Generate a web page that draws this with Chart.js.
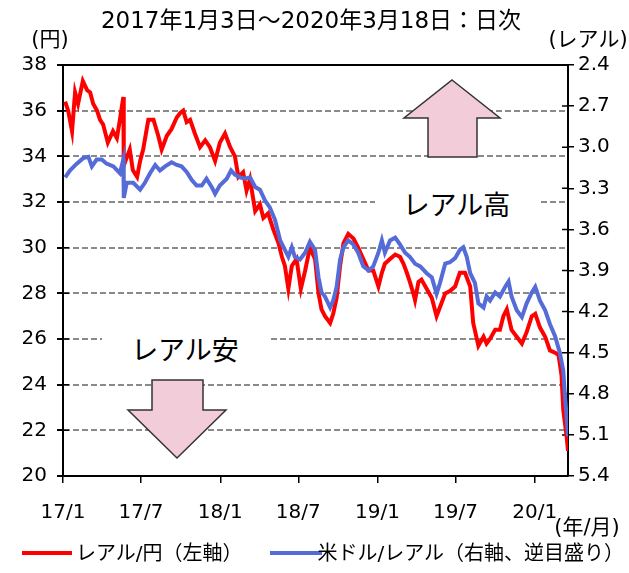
<!DOCTYPE html>
<html><head>
<meta charset="utf-8">
<script src="https://cdn.jsdelivr.net/npm/chart.js@4"></script>
<style>
  body { margin:0; background:#fff }
  #wrap { position:relative; width:629px; height:573px; font-family:"DejaVu Sans","Noto Sans CJK JP",sans-serif; color:#000 }
  canvas { position:absolute; left:0; top:0 }
  .t { position:absolute; white-space:nowrap; line-height:1; transform:translate(-50%,-50%) }
  .l { position:absolute; white-space:nowrap; line-height:1; transform:translateY(-50%) }
  .r { position:absolute; white-space:nowrap; line-height:1; transform:translate(-100%,-50%) }
  .box { position:absolute; background:#fff; display:flex; align-items:center; justify-content:center; font-size:27px }
  .sw { position:absolute; height:4px }
</style>
</head><body>
<div id="wrap">
  <canvas id="c" width="629" height="573"></canvas>
  <div class="t" style="left:311px;top:20px;font-size:23px">2017年1月3日～2020年3月18日：日次</div>
  <div class="t" style="left:50px;top:39px;font-size:21px">(円)</div>
  <div class="t" style="left:588px;top:39px;font-size:21px">(レアル)</div>
  <div class="t" style="left:587px;top:527px;font-size:21px">(年/月)</div>
  <div class="box" style="left:375px;top:184px;width:163px;height:38px">レアル高</div>
  <div class="box" style="left:102px;top:329px;width:166px;height:38px">レアル安</div>
  <div class="sw" style="left:22px;top:551px;width:50px;background:#ff0000"></div>
  <div class="l" style="left:76px;top:553px;font-size:20px">レアル/円（左軸）</div>
  <div class="sw" style="left:270px;top:551px;width:52px;background:#556bd8"></div>
  <div class="r" style="left:624px;top:553px;font-size:20px">米ドル/レアル（右軸、逆目盛り）</div>
</div>
<script>
// days counted from 2017-01-01
const xTickDays = [0, 181, 365, 546, 730, 911, 1095];
const xTickLabels = ["17/1", "17/7", "18/1", "18/7", "19/1", "19/7", "20/1"];
const yTicks = [20, 22, 24, 26, 28, 30, 32, 34, 36, 38];
const y1Ticks = [2.4, 2.7, 3.0, 3.3, 3.6, 3.9, 4.2, 4.5, 4.8, 5.1, 5.4];

// レアル/円 (left axis)
const redDays = [
  5, 12, 21, 28, 35, 46, 56, 63, 70, 79,
  86, 93, 104, 116, 125, 132, 140, 141, 155, 162,
  172, 179, 186, 198, 210, 221, 229, 241, 252, 264,
  272, 279, 287, 295, 306, 318, 330, 341, 353, 364,
  376, 388, 399, 407, 418, 426, 434, 446, 457, 465,
  476, 488, 500, 508, 515, 523, 531, 542, 552, 562,
  573, 585, 593, 600, 608, 620, 627, 635, 643, 651,
  662, 674, 685, 697, 709, 720, 732, 740, 747, 759,
  771, 782, 790, 798, 805, 813, 817, 825, 832, 844,
  856, 867, 875, 887, 898, 910, 921, 933, 945, 952,
  964, 976, 983, 991, 1003, 1014, 1022, 1030, 1041, 1053,
  1065, 1076, 1088, 1096, 1107, 1119, 1130, 1142, 1150, 1157,
  1161, 1165, 1169, 1172
];
const redValues = [
  36.4, 36.0, 35.1, 36.8, 36.3, 37.3, 36.9, 36.8, 36.3, 36.0,
  35.6, 35.4, 34.6, 35.1, 34.8, 35.6, 36.6, 33.6, 34.3, 33.4,
  33.1, 33.8, 34.3, 35.6, 35.6, 34.9, 34.3, 34.9, 35.2, 35.7,
  35.9, 36.0, 35.5, 35.6, 35.0, 34.4, 34.7, 34.4, 33.8, 34.6,
  35.0, 34.4, 34.0, 33.1, 33.3, 32.5, 33.0, 31.6, 31.9, 31.3,
  31.5, 30.8, 30.2, 29.6, 29.2, 28.2, 29.2, 29.5, 28.2, 29.0,
  30.0, 29.5, 28.0, 27.3, 27.0, 26.7, 27.1, 27.8, 29.2, 30.2,
  30.6, 30.4, 30.0, 29.5, 29.0, 29.0, 28.3, 28.9, 29.3, 29.5,
  29.7, 29.6, 29.3, 28.9, 28.5, 28.0, 27.7, 28.5, 28.6, 28.2,
  27.8, 27.0, 27.4, 28.0, 28.1, 28.3, 28.9, 28.9, 28.3, 26.7,
  25.7, 26.1, 25.8, 26.0, 26.4, 26.4, 27.0, 27.3, 26.4, 26.1,
  25.8, 26.3, 27.0, 27.1, 26.5, 26.1, 25.5, 25.4, 25.3, 24.4,
  22.9, 22.3, 21.7, 21.1
];

// 米ドル/レアル (right axis, reversed)
const blueDays = [
  5, 16, 32, 47, 59, 67, 78, 90, 101, 117,
  132, 140, 141, 148, 163, 179, 190, 202, 214, 225,
  237, 252, 264, 275, 287, 299, 310, 322, 333, 345,
  353, 364, 380, 390, 399, 411, 422, 434, 446, 457,
  469, 480, 492, 504, 515, 523, 531, 538, 550, 562,
  573, 585, 593, 600, 608, 620, 627, 635, 643, 651,
  662, 674, 685, 697, 709, 720, 732, 740, 747, 759,
  771, 782, 794, 805, 817, 829, 844, 856, 867, 875,
  887, 898, 910, 921, 929, 937, 945, 956, 964, 976,
  983, 991, 1003, 1014, 1026, 1034, 1041, 1053, 1065, 1076,
  1088, 1096, 1107, 1119, 1130, 1142, 1153, 1161, 1165, 1169,
  1172
];
const blueValues = [
  3.22, 3.17, 3.12, 3.08, 3.07, 3.14, 3.09, 3.09, 3.12, 3.14,
  3.19, 3.09, 3.37, 3.26, 3.26, 3.31, 3.26, 3.19, 3.13, 3.17,
  3.14, 3.11, 3.13, 3.14, 3.18, 3.24, 3.28, 3.28, 3.23, 3.29,
  3.34, 3.28, 3.23, 3.17, 3.20, 3.22, 3.23, 3.22, 3.29, 3.31,
  3.39, 3.44, 3.53, 3.68, 3.75, 3.80, 3.73, 3.80, 3.82, 3.77,
  3.69, 3.75, 3.95, 4.06, 4.09, 4.17, 4.12, 4.02, 3.82, 3.73,
  3.68, 3.71, 3.77, 3.87, 3.90, 3.87, 3.77, 3.68, 3.77, 3.68,
  3.66, 3.71, 3.77, 3.80, 3.85, 3.87, 3.92, 3.95, 4.07, 3.99,
  3.85, 3.84, 3.81, 3.75, 3.73, 3.80, 3.92, 3.99, 4.14, 4.17,
  4.09, 4.12, 4.06, 4.09, 4.02, 3.98, 4.09, 4.19, 4.24, 4.14,
  4.06, 4.02, 4.12, 4.19, 4.29, 4.38, 4.50, 4.63, 4.82, 4.97,
  5.11
];

const tickFont = { family: "DejaVu Sans", size: 20 };

// arrows, top frame line and the inner half of the axis ticks
const decor = {
  id: "decor",
  beforeDatasetsDraw(chart) {
    const { ctx, chartArea: a, scales } = chart;
    ctx.save();
    ctx.strokeStyle = "#000";
    ctx.lineWidth = 2;
    ctx.beginPath();
    ctx.moveTo(a.left, a.top);
    ctx.lineTo(a.right, a.top);
    ctx.stroke();

    ctx.lineWidth = 1.5;
    ctx.beginPath();
    yTicks.forEach(v => {
      const y = scales.y.getPixelForValue(v);
      ctx.moveTo(a.left, y); ctx.lineTo(a.left + 6, y);
    });
    y1Ticks.forEach(v => {
      const y = scales.y1.getPixelForValue(v);
      ctx.moveTo(a.right, y); ctx.lineTo(a.right - 6, y);
    });
    ctx.stroke();

    const poly = pts => {
      ctx.beginPath();
      pts.forEach((p, i) => i ? ctx.lineTo(p[0], p[1]) : ctx.moveTo(p[0], p[1]));
      ctx.closePath();
      ctx.fillStyle = "#f2cdd9";
      ctx.fill();
      ctx.strokeStyle = "#333";
      ctx.lineWidth = 1.5;
      ctx.stroke();
    };
    poly([[452, 80], [500, 118], [477, 118], [477, 157], [428, 157], [428, 118], [404, 118]]);
    poly([[152, 380], [203, 380], [203, 410], [226, 410], [177, 458], [128, 410], [152, 410]]);
    ctx.restore();
  }
};

new Chart(document.getElementById("c"), {
  type: "line",
  data: {
    datasets: [
      {
        label: "レアル/円（左軸）",
        data: redDays.map((d, i) => ({ x: d, y: redValues[i] })),
        yAxisID: "y",
        borderColor: "#ff0000",
        borderWidth: 4,
        pointRadius: 0,
        tension: 0,
        order: 1
      },
      {
        label: "米ドル/レアル（右軸、逆目盛り）",
        data: blueDays.map((d, i) => ({ x: d, y: blueValues[i] })),
        yAxisID: "y1",
        borderColor: "#556bd8",
        borderWidth: 4,
        pointRadius: 0,
        tension: 0,
        order: 0
      }
    ]
  },
  options: {
    responsive: false,
    animation: false,
    layout: { padding: { top: 65, left: 0, right: 0, bottom: 0 } },
    plugins: { legend: { display: false }, tooltip: { enabled: false } },
    scales: {
      x: {
        type: "linear",
        min: 0,
        max: 1172,
        afterBuildTicks: s => { s.ticks = xTickDays.map(v => ({ value: v })); },
        afterFit: s => { s.height = 97; },
        ticks: {
          callback: v => xTickLabels[xTickDays.indexOf(v)],
          font: tickFont, color: "#000", padding: 18, maxRotation: 0, autoSkip: false
        },
        grid: { drawOnChartArea: false, tickLength: 7, tickColor: "#000", lineWidth: 1.5 },
        border: { color: "#000", width: 2 }
      },
      y: {
        position: "left",
        min: 20,
        max: 38,
        afterBuildTicks: s => { s.ticks = yTicks.map(v => ({ value: v })); },
        afterFit: s => { s.width = 63; },
        ticks: { font: tickFont, color: "#000", padding: 10 },
        grid: {
          color: c => (c.tick && (c.tick.value === 20 || c.tick.value === 38)) ? "rgba(0,0,0,0)" : "#8a8a8a",
          lineWidth: 2,
          tickColor: "#000",
          tickLength: 6
        },
        border: { color: "#000", width: 2, dash: [6, 3] }
      },
      y1: {
        position: "right",
        reverse: true,
        min: 2.4,
        max: 5.4,
        afterBuildTicks: s => { s.ticks = y1Ticks.map(v => ({ value: v })); },
        afterFit: s => { s.width = 61; },
        ticks: { font: tickFont, color: "#000", padding: 4, callback: v => v.toFixed(1) },
        grid: { drawOnChartArea: false, tickColor: "#000", tickLength: 6, lineWidth: 1.5 },
        border: { color: "#000", width: 2 }
      }
    }
  },
  plugins: [decor]
});
</script>
</body></html>
